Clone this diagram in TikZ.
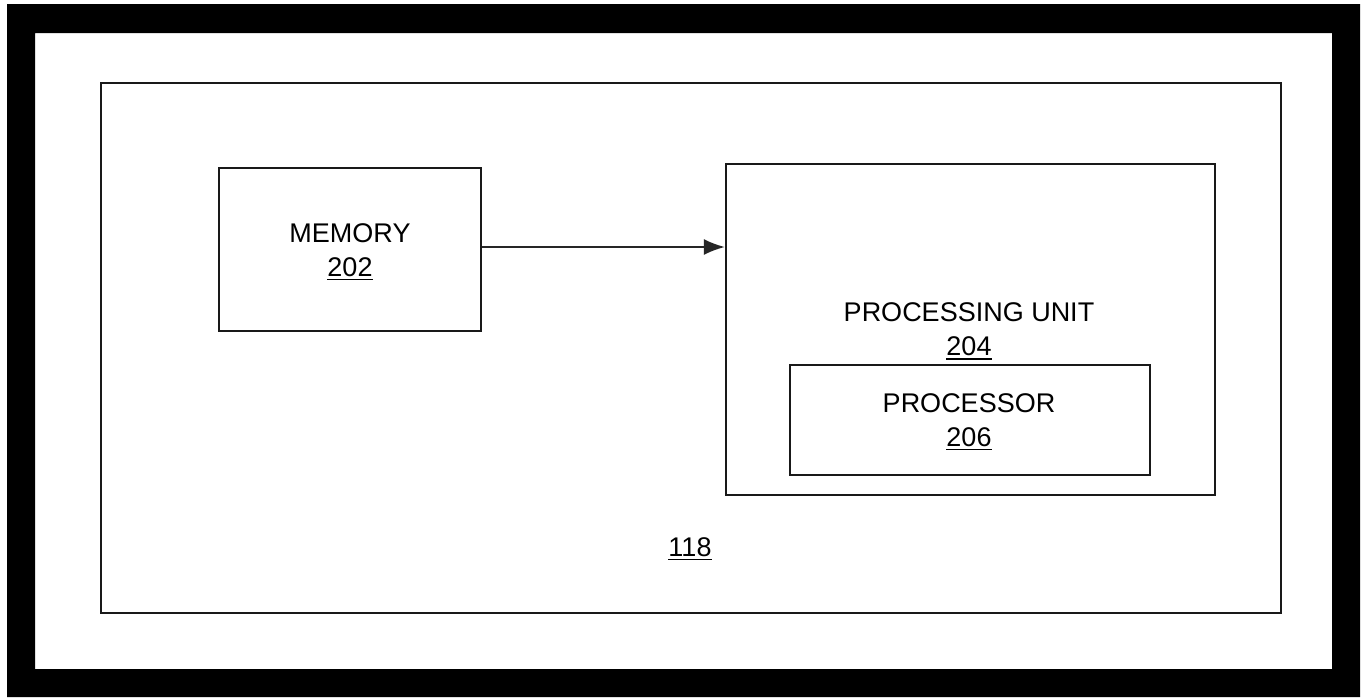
\documentclass[tikz,border=0pt]{standalone}
\usepackage{fontspec}
\setmainfont{Liberation Sans}
\usetikzlibrary{arrows.meta}
\newcommand\ulnum[1]{\setbox0\hbox{#1}\rlap{\rule[-4pt]{\wd0}{1.8pt}}\box0}
\tikzset{
  box/.style={draw=black!90, line width=2.2pt, inner sep=0pt, align=center,
    font=\fontsize{27}{34}\selectfont},
  lbl/.style={inner sep=0pt, align=center, font=\fontsize{27}{34}\selectfont},
  conn/.style={draw=black!85, line width=2pt, -{Latex[length=21pt,width=16pt]}}
}
\begin{document}
\begin{tikzpicture}[x=1pt,y=-1pt]
\useasboundingbox (0,0) rectangle (1366,697);
\fill[white] (0,0) rectangle (1366,697);
\fill[black, even odd rule] (7,4) rectangle (1360,697) (35,33) rectangle (1332,669);
\node[box, minimum width=1180pt, minimum height=530pt] (sys) at (691,348) {};
\node[box, minimum width=262pt, minimum height=163pt] (mem) at (350,249.5) {};
\node[lbl] (memlbl) at (350,252) {MEMORY\\\ulnum{202}};
\node[box, minimum width=489pt, minimum height=331pt] (pu) at (970.5,329.5) {};
\node[lbl] (pulbl) at (969,331.5) {PROCESSING UNIT\\\ulnum{204}};
\node[box, minimum width=360pt, minimum height=110pt] (proc) at (970,420) {};
\node[lbl] (proclbl) at (969,422) {PROCESSOR\\\ulnum{206}};
\node[lbl] (syslbl) at (690,549) {\ulnum{118}};
\coordinate (a) at (mem.east |- 0,247);
\draw[conn] (a) -- (pu.west |- a);
\end{tikzpicture}
\end{document}
